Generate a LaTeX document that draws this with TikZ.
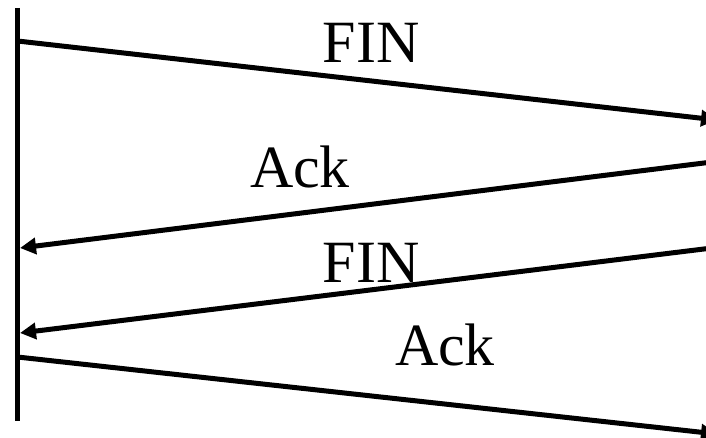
\documentclass[tikz,border=0pt]{standalone}
\usepackage{fontspec}
\setmainfont{Liberation Serif}
\usetikzlibrary{arrows.meta}
\begin{document}
\begin{tikzpicture}[x=1pt,y=-1pt,
  msg/.style={line width=5pt,-{Triangle[length=16pt,width=16pt]}},
  lbl/.style={anchor=base,inner sep=0pt,font=\fontsize{60}{72}\selectfont}]
\useasboundingbox (0,0) rectangle (706,438);
% time line
\coordinate (top) at (17.5,8);
\coordinate (bot) at (17.5,421);
\draw[line width=5.5pt] (top) -- (bot);
% end points
\coordinate (a1) at (17.5,41);
\coordinate (b1) at (717,120);
\coordinate (a2) at (712,162);
\coordinate (b2) at (20,248);
\coordinate (a3) at (712,248);
\coordinate (b3) at (20,333);
\coordinate (a4) at (17.5,357);
\coordinate (b4) at (717,434);
\draw[msg] (a1) -- (b1);
\draw[msg] (a2) -- (b2);
\draw[msg] (a3) -- (b3);
\draw[msg] (a4) -- (b4);
% labels
\node[lbl] (fin1) at (371,63) {FIN};
\node[lbl] (ack1) at (300,188) {Ack};
\node[lbl] (fin2) at (371,282) {FIN};
\node[lbl] (ack2) at (445,365) {Ack};
\end{tikzpicture}
\end{document}
